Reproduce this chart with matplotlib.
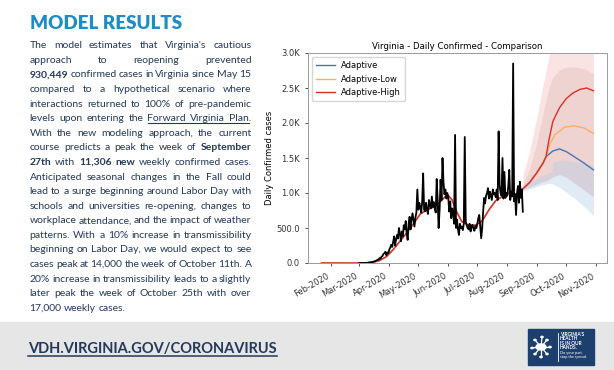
import matplotlib
matplotlib.use('Agg')
import matplotlib.pyplot as plt
import matplotlib.dates as mdates
from matplotlib.patches import Rectangle, Circle
from matplotlib.lines import Line2D
from matplotlib.ticker import FuncFormatter, MultipleLocator
import pandas as pd

W, H = 614, 370
NAVY = '#24395a'
HEAD = '#1d8dc4'

# daily confirmed cases, one value per day from 2020-03-01
case_start = '2020-03-01'
daily_cases = [
    0, 0, 0, 0, 1, 0, 2,
    1, 3, 5, 8, 9, 11, 14,
    15, 22, 25, 30, 38, 45, 52,
    70, 60, 90, 100, 130, 140, 160,
    110, 150, 140, 190, 220, 260, 230,
    300, 380, 250, 330, 400, 350, 500,
    420, 310, 450, 380, 540, 480, 600,
    420, 330, 560, 660, 480, 620, 710,
    610, 520, 650, 720, 1050, 760, 860,
    800, 720, 880, 1280, 760, 740, 860,
    760, 700, 900, 820, 780, 950, 800,
    870, 780, 720, 1200, 900, 500, 760,
    1190, 900, 1500, 1160, 980, 1050, 920,
    1000, 930, 733, 880, 640, 780, 700,
    560, 1830, 500, 620, 480, 400, 560,
    500, 520, 470, 560, 1800, 590, 540,
    500, 480, 560, 450, 530, 543, 490,
    460, 530, 500, 560, 640, 686, 520,
    352, 500, 733, 930, 850, 960, 1000,
    1070, 920, 1020, 960, 900, 1050, 980,
    1000, 940, 1050, 900, 1880, 1110, 1000,
    960, 1500, 920, 1300, 930, 1000, 960,
    1100, 1330, 900, 1020, 950, 2850, 880,
    980, 686, 1000, 1100, 860, 1160, 930,
    1050, 733,
]

# model fit over the history
fit_dates = ['2020-01-22', '2020-03-05', '2020-03-15', '2020-03-22', '2020-03-29',
             '2020-04-05', '2020-04-12', '2020-04-19', '2020-04-26', '2020-05-03',
             '2020-05-10', '2020-05-17', '2020-05-24', '2020-05-31', '2020-06-05',
             '2020-06-10', '2020-06-15', '2020-06-22', '2020-06-29', '2020-07-06',
             '2020-07-13', '2020-07-20', '2020-07-27', '2020-08-03', '2020-08-10',
             '2020-08-17']
fit_values = [0, 0, 10, 35, 90, 190, 310, 430, 560, 700, 760, 800, 880, 980, 900,
              720, 590, 540, 540, 600, 760, 890, 950, 1000, 980, 1060]

# shared projection until the scenarios split
common_dates = ['2020-08-17', '2020-08-24', '2020-08-31', '2020-09-07', '2020-09-10']
common_values = [1060, 1150, 1280, 1430, 1520]

adaptive_dates = ['2020-09-10', '2020-09-17', '2020-09-24', '2020-10-01', '2020-10-09',
                  '2020-10-19', '2020-10-29']
adaptive_values = [1520, 1600, 1630, 1590, 1520, 1430, 1330]

low_dates = ['2020-09-10', '2020-09-14', '2020-09-19', '2020-09-29', '2020-10-09',
             '2020-10-19', '2020-10-29']
low_values = [1520, 1700, 1830, 1940, 1960, 1930, 1850]

high_dates = ['2020-09-10', '2020-09-13', '2020-09-17', '2020-09-24', '2020-10-01',
              '2020-10-08', '2020-10-15', '2020-10-22', '2020-10-29']
high_values = [1520, 1760, 2020, 2220, 2350, 2430, 2480, 2500, 2460]

# uncertainty bands
band_dates = ['2020-08-17', '2020-08-24', '2020-08-31', '2020-09-07', '2020-09-13',
              '2020-09-16', '2020-09-17', '2020-09-24', '2020-10-01', '2020-10-08',
              '2020-10-15', '2020-10-22', '2020-10-29']
adaptive_lo = [1030, 1060, 1090, 1120, 1140, 1130, 1130, 1080, 1010, 940, 860, 770, 680]
adaptive_hi = [1100, 1150, 1200, 1250, 1290, 1300, 1440, 1470, 1470, 1450, 1430, 1410, 1390]
low_lo = [1060, 1090, 1130, 1170, 1200, 1230, 1240, 1270, 1230, 1160, 1090, 1020, 950]
low_hi = [1120, 1350, 1700, 2150, 2500, 2620, 2650, 2760, 2800, 2800, 2790, 2760, 2700]
high_lo = [1040, 1080, 1120, 1160, 1190, 1220, 1230, 1260, 1220, 1150, 1080, 1010, 940]
high_hi = [1250, 1600, 2050, 2550, 2950, 3150, 3200, 3400, 3500, 3550, 3600, 3600, 3600]

series_names = ['Adaptive', 'Adaptive-Low', 'Adaptive-High']
series_colors = ['#4575b4', '#fdae61', '#d73027']

# paragraph, *word = bold, _word = underlined
para_lines = [
    "The model estimates that Virginia's cautious",
    "approach to reopening prevented",
    "*930,449 confirmed cases in Virginia since May 15",
    "compared to a hypothetical scenario where",
    "interactions returned to 100% of pre-pandemic",
    "levels upon entering the _Forward _Virginia _Plan.",
    "With the new modeling approach, the current",
    "course predicts a peak the week of *September",
    "*27th with *11,306 *new weekly confirmed cases.",
    "Anticipated seasonal changes in the Fall could",
    "lead to a surge beginning around Labor Day with",
    "schools and universities re-opening, changes to",
    "workplace attendance, and the impact of weather",
    "patterns. With a 10% increase in transmissibility",
    "beginning on Labor Day, we would expect to see",
    "cases peak at 14,000 the week of October 11th. A",
    "20% increase in transmissibility leads to a slightly",
    "later peak the week of October 25th with over",
    "17,000 weekly cases.",
]


def fx(x):
    return x / W


def fy(y):
    return 1 - y / H


fig = plt.figure(figsize=(W / 100, H / 100), dpi=100)
renderer = fig.canvas.get_renderer()


def text_width(s, **kw):
    t = fig.text(0, 0, s, **kw)
    w = t.get_window_extent(renderer).width
    t.remove()
    return w


# footer band
fig.add_artist(Rectangle((0, 0), 1, fy(322), transform=fig.transFigure,
                         color='#e6e6e6', zorder=0))

# heading
fig.text(fx(29.5), fy(29.3), 'MODEL RESULTS', family='Lato', fontweight='heavy',
         fontsize=13.5, color=HEAD, va='baseline')

# justified paragraph
para_kw = dict(family='Lato', fontsize=7.5, color=NAVY, va='baseline')
x0, x1 = 29.5, 251.5
base0, step = 48.3, 14.58
space_w = text_width('a a', **para_kw) - text_width('aa', **para_kw)
for i, line in enumerate(para_lines):
    words = []
    for w in line.split():
        style = 'n'
        if w[0] == '*':
            style, w = 'b', w[1:]
        elif w[0] == '_':
            style, w = 'u', w[1:]
        kw = dict(para_kw)
        if style == 'b':
            kw['fontweight'] = 'bold'
        words.append((w, style, kw, text_width(w, **kw)))
    total = sum(wd[3] for wd in words)
    if i < len(para_lines) - 1 and len(words) > 1:
        gap = (x1 - x0 - total) / (len(words) - 1)
    else:
        gap = space_w
    yb = base0 + i * step
    x = x0
    ul = []
    for w, style, kw, wd in words:
        fig.text(fx(x), fy(yb), w, **kw)
        if style == 'u':
            ul.append((x, x + text_width(w.rstrip('.'), **kw)))
        x += wd + gap
    if ul:
        fig.add_artist(Line2D([fx(ul[0][0]), fx(ul[-1][1])], [fy(yb + 1.6)] * 2,
                              transform=fig.transFigure, color=NAVY, lw=0.8))

# footer link
foot_kw = dict(family='Lato', fontweight='bold', fontsize=10.5, color=NAVY, va='baseline')
foot = 'VDH.VIRGINIA.GOV/CORONAVIRUS'
fig.text(fx(28), fy(353), foot, **foot_kw)
fw = text_width(foot, **foot_kw)
fig.add_artist(Line2D([fx(28), fx(28 + fw)], [fy(355.5)] * 2,
                      transform=fig.transFigure, color=NAVY, lw=1.1))

# logo
fig.add_artist(Rectangle((fx(528), fy(365)), (594 - 528) / W, (365 - 329) / H,
                         transform=fig.transFigure, color='#1d3f6e', zorder=2))
fig.add_artist(Circle((fx(541), fy(347)), 5 / W, transform=fig.transFigure,
                      color='white', zorder=3))
for dx, dy in [(9, 0), (-9, 1), (6, -7), (-6, -7), (6, 7), (-6, 7), (1, -10), (0, 10)]:
    fig.add_artist(Line2D([fx(541), fx(541 + dx)], [fy(347), fy(347 + dy)],
                          transform=fig.transFigure, color='white', lw=0.9, zorder=3))
    fig.add_artist(Circle((fx(541 + dx), fy(347 + dy)), 1.1 / W,
                          transform=fig.transFigure, color='white', zorder=3))
fig.add_artist(Line2D([fx(557.5)] * 2, [fy(333), fy(361)], transform=fig.transFigure,
                      color='white', lw=0.6, zorder=3))
for j, s in enumerate(["VIRGINIA'S", 'HEALTH', 'IS IN OUR', 'HANDS.']):
    fig.text(fx(560), fy(336 + j * 4.3), s, family='Lato', fontweight='bold',
             fontsize=3.4, color='white', va='baseline', zorder=4)
for j, s in enumerate(['Do your part,', 'stop the spread.']):
    fig.text(fx(560), fy(354 + j * 3.8), s, family='Lato', fontsize=2.8,
             color='white', va='baseline', zorder=4)

# chart
ax = fig.add_axes([fx(308), fy(263), (607 - 308) / W, (263 - 53) / H])
bx = pd.to_datetime(band_dates)
ax.fill_between(bx, high_lo, high_hi, color='#d73027', alpha=0.13, lw=0)
ax.fill_between(bx, low_lo, low_hi, color='#a0463c', alpha=0.10, lw=0)
ax.fill_between(bx, adaptive_lo, adaptive_hi, color='#b2cde8', alpha=0.4, lw=0)

branches = [(adaptive_dates, adaptive_values), (low_dates, low_values),
            (high_dates, high_values)]
for (d, v), name, c in zip(branches, series_names, series_colors):
    xs = pd.to_datetime(fit_dates + common_dates[1:] + d[1:])
    ys = fit_values + common_values[1:] + v[1:]
    ax.plot(xs, ys, color=c, lw=1.0, label=name)

case_x = pd.date_range(case_start, periods=len(daily_cases), freq='D')
ax.plot(case_x, daily_cases, color='black', lw=1.3, zorder=5)

ax.set_ylim(0, 3000)
ax.yaxis.set_major_locator(MultipleLocator(500))
ax.yaxis.set_major_formatter(FuncFormatter(
    lambda v, p: f'{v / 1000:.1f}K' if v >= 1000 else f'{v:.1f}'))
ax.xaxis.set_major_locator(mdates.MonthLocator())
ax.xaxis.set_major_formatter(mdates.DateFormatter('%b-%Y'))
ax.set_xlim(pd.Timestamp('2020-01-08'), pd.Timestamp('2020-11-12'))
for lab in ax.get_xticklabels():
    lab.set_rotation(30)
    lab.set_ha('right')
ax.tick_params(labelsize=6, colors='#333333', length=2.5, width=0.6)
for sp in ax.spines.values():
    sp.set_color('#999999')
    sp.set_linewidth(0.7)
ax.set_title('Virginia - Daily Confirmed - Comparison', fontsize=6.2, pad=3)
ax.set_ylabel('Daily Confirmed cases', fontsize=6, labelpad=1.5)
ax.legend(loc='upper left', fontsize=6, frameon=True, edgecolor='#cccccc',
          handlelength=2.2, borderpad=0.5, labelspacing=0.5, fancybox=True)

fig.savefig('out.png', dpi=100)
